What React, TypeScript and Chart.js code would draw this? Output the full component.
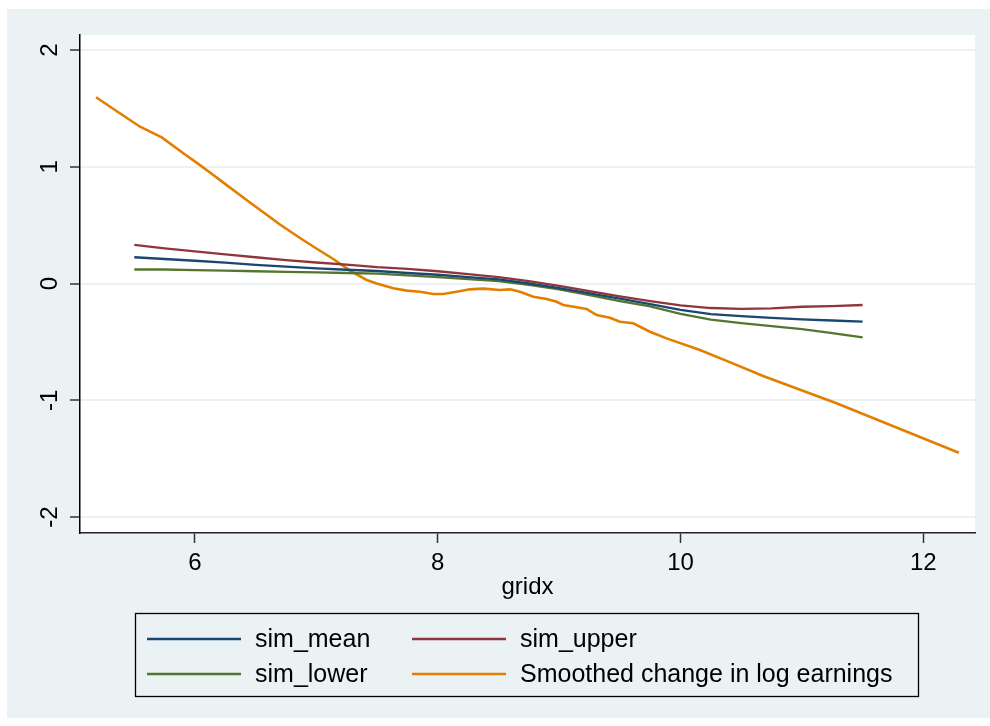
import React, { useEffect, useRef } from "react";
import { Chart, registerables } from "chart.js";

Chart.register(...registerables);

// ---- data ----
const SIM_X = [5.5, 5.75, 6.0, 6.25, 6.5, 6.75, 7.0, 7.25, 7.5, 7.75, 8.0, 8.25, 8.5, 8.75, 9.0, 9.25, 9.5, 9.75, 10.0, 10.25, 10.5, 10.75, 11.0, 11.25, 11.5];
const SIM_MEAN = [0.225, 0.21, 0.195, 0.178, 0.16, 0.145, 0.13, 0.118, 0.107, 0.09, 0.075, 0.055, 0.035, 0.0, -0.04, -0.085, -0.13, -0.176, -0.225, -0.262, -0.28, -0.295, -0.307, -0.317, -0.327];
const SIM_UPPER = [0.33, 0.30, 0.275, 0.25, 0.225, 0.2, 0.18, 0.162, 0.14, 0.125, 0.105, 0.08, 0.055, 0.02, -0.02, -0.065, -0.11, -0.15, -0.188, -0.21, -0.218, -0.213, -0.199, -0.193, -0.184];
const SIM_LOWER = [0.12, 0.12, 0.115, 0.11, 0.105, 0.1, 0.095, 0.09, 0.084, 0.07, 0.055, 0.038, 0.02, -0.012, -0.05, -0.1, -0.15, -0.195, -0.26, -0.31, -0.34, -0.365, -0.39, -0.425, -0.461];

const SMOOTH_X = [5.185, 5.35, 5.547, 5.726, 5.918, 6.027, 6.151, 6.22, 6.425, 6.7, 6.865, 7.0, 7.139, 7.277, 7.414, 7.497, 7.634, 7.744, 7.853, 7.963, 8.045, 8.155, 8.265, 8.375, 8.51, 8.595, 8.677, 8.787, 8.897, 8.979, 9.034, 9.144, 9.226, 9.309, 9.418, 9.5, 9.61, 9.748, 9.885, 10.16, 10.43, 10.68, 11.285, 12.293];
const SMOOTH_Y = [1.595, 1.48, 1.343, 1.252, 1.105, 1.025, 0.93, 0.875, 0.715, 0.505, 0.39, 0.3, 0.21, 0.11, 0.03, 0.0, -0.041, -0.061, -0.07, -0.09, -0.09, -0.07, -0.05, -0.044, -0.056, -0.05, -0.07, -0.113, -0.133, -0.156, -0.184, -0.204, -0.218, -0.27, -0.293, -0.327, -0.341, -0.413, -0.47, -0.57, -0.684, -0.792, -1.026, -1.449];

const X_TICKS = [6, 8, 10, 12];
const Y_TICKS = [-2, -1, 0, 1, 2];
const X_TITLE = "gridx";

const LABELS = ["sim_mean", "sim_upper", "sim_lower", "Smoothed change in log earnings"];
const COLORS = ["#1a476f", "#90353b", "#55752f", "#e37e00"];

const FONT = "'Liberation Sans', Arial, sans-serif";
const BG = "#eaf2f3";

const pts = (xs: number[], ys: number[]) => xs.map((x, i) => ({ x, y: ys[i] }));

const bgPlugin = {
  id: "bgPlugin",
  beforeDraw(chart: any) {
    const { ctx, chartArea } = chart;
    ctx.save();
    ctx.fillStyle = "#ffffff";
    ctx.fillRect(0, 0, chart.width, chart.height);
    ctx.fillStyle = BG;
    ctx.fillRect(7, 9, chart.width - 7, 709);
    ctx.fillStyle = "#ffffff";
    ctx.fillRect(chartArea.left, chartArea.top, chartArea.right - chartArea.left, chartArea.bottom - chartArea.top);
    ctx.restore();
  },
};

const yLabelPlugin = {
  id: "yLabelPlugin",
  afterDraw(chart: any) {
    const { ctx } = chart;
    const ys = chart.scales.y;
    ctx.save();
    ctx.fillStyle = "#000";
    ctx.font = `24px ${FONT}`;
    ctx.textAlign = "center";
    ctx.textBaseline = "middle";
    ys.ticks.forEach((t: any) => {
      const py = ys.getPixelForValue(t.value);
      ctx.save();
      ctx.translate(50, py);
      ctx.rotate(-Math.PI / 2);
      ctx.fillText(String(t.value), 0, 0);
      ctx.restore();
    });
    ctx.restore();
  },
};

const legendPlugin = {
  id: "legendPlugin",
  afterDraw(chart: any) {
    const { ctx } = chart;
    const ds = chart.data.datasets;
    ctx.save();
    ctx.strokeStyle = "#000";
    ctx.lineWidth = 1.3;
    ctx.strokeRect(135.5, 613.5, 783, 83);
    const cols = [147, 412];
    const rows = [639, 674];
    ctx.font = `25px ${FONT}`;
    ctx.textBaseline = "middle";
    ctx.textAlign = "left";
    ds.forEach((d: any, i: number) => {
      const cx = cols[i % 2];
      const cy = rows[Math.floor(i / 2)];
      ctx.strokeStyle = d.borderColor;
      ctx.lineWidth = 2.4;
      ctx.beginPath();
      ctx.moveTo(cx, cy);
      ctx.lineTo(cx + 94, cy);
      ctx.stroke();
      ctx.fillStyle = "#000";
      ctx.fillText(d.label, cx + 108, cy + 1);
    });
    ctx.restore();
  },
};

export default function App() {
  const ref = useRef<HTMLCanvasElement | null>(null);

  useEffect(() => {
    document.body.style.margin = "0";
    const canvas = ref.current;
    if (!canvas) return;
    const mk = (i: number, data: any[], w: number) => ({
      label: LABELS[i],
      data,
      borderColor: COLORS[i],
      backgroundColor: COLORS[i],
      borderWidth: w,
      pointRadius: 0,
      tension: 0,
      fill: false,
    });
    const chart = new Chart(canvas, {
      type: "line",
      data: {
        datasets: [
          mk(0, pts(SIM_X, SIM_MEAN), 2.3),
          mk(1, pts(SIM_X, SIM_UPPER), 2.3),
          mk(2, pts(SIM_X, SIM_LOWER), 2.3),
          mk(3, pts(SMOOTH_X, SMOOTH_Y), 2.6),
        ],
      },
      options: {
        responsive: false,
        animation: false,
        layout: { padding: { left: 0, top: 35, right: 15, bottom: 113 } },
        plugins: { legend: { display: false }, tooltip: { enabled: false }, title: { display: false } },
        scales: {
          x: {
            type: "linear",
            position: "bottom",
            min: 5.0526,
            max: 12.426,
            afterBuildTicks: (s: any) => {
              s.ticks = X_TICKS.map((v) => ({ value: v }));
            },
            afterFit: (s: any) => {
              s.height = 80;
            },
            ticks: {
              color: "#000",
              font: { family: FONT, size: 24 },
              padding: 6,
              maxRotation: 0,
              minRotation: 0,
              callback: (v: any) => String(v),
            },
            grid: {
              drawOnChartArea: false,
              drawTicks: true,
              tickLength: 10,
              tickColor: "#333333",
              tickWidth: 1.5,
            },
            border: { display: true, color: "#222222", width: 1.5 },
            title: {
              display: true,
              text: X_TITLE,
              color: "#000",
              font: { family: FONT, size: 24 },
              padding: { top: 0, bottom: 11.6 },
            },
          },
          y: {
            type: "linear",
            min: -2.137,
            max: 2.1285,
            afterBuildTicks: (s: any) => {
              s.ticks = Y_TICKS.map((v) => ({ value: v }));
            },
            afterFit: (s: any) => {
              s.width = 80;
            },
            ticks: { display: false },
            grid: {
              color: BG,
              lineWidth: 2,
              drawTicks: true,
              tickLength: 10,
              tickColor: "#333333",
              tickWidth: 1.5,
            },
            border: { display: true, color: "#000000", width: 1.5 },
          },
        },
      },
      plugins: [bgPlugin, yLabelPlugin, legendPlugin],
    } as any);
    return () => chart.destroy();
  }, []);

  return (
    <div style={{ position: "absolute", left: 0, top: 0, width: 990, height: 726 }}>
      <canvas ref={ref} width={990} height={726} style={{ display: "block" }} />
    </div>
  );
}
